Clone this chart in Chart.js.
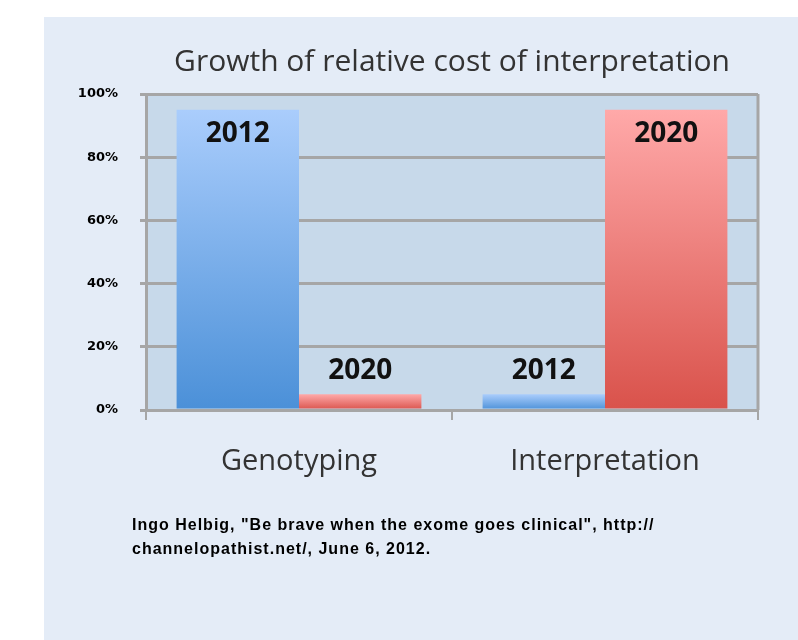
<!DOCTYPE html>
<html>
<head>
<meta charset="utf-8">
<script src="https://cdn.jsdelivr.net/npm/chart.js@4"></script>
<style>
    body { margin: 0; background: #ffffff; }
    #wrap { position: relative; width: 798px; height: 640px; }
    #note {
        position: absolute; left: 132px; top: 513px;
        font-family: "Liberation Sans", sans-serif; font-size: 16px; line-height: 24px;
        color: #000; font-weight: bold; letter-spacing: 1px;
    }
</style>
</head>
<body>
<div id="wrap">
    <canvas id="costChart" width="798" height="640"></canvas>
    <div id="note">Ingo Helbig, "Be brave when the exome goes clinical", http://<br>channelopathist.net/, June 6, 2012.</div>
</div>
<script>
const categories = ['Genotyping', 'Interpretation'];
const series2012 = [95, 5];
const series2020 = [5, 95];
const yTickLabels = ['0%', '20%', '40%', '60%', '80%', '100%'];

const gridGray = '#a6a6a6';

function barGradient(context, light, dark) {
    const chart = context.chart;
    const yScale = chart.scales.y;
    if (!chart.chartArea || !yScale || context.raw === undefined) {
        return dark;
    }
    const top = yScale.getPixelForValue(context.raw);
    const bottom = yScale.getPixelForValue(0);
    const g = chart.ctx.createLinearGradient(0, top, 0, bottom);
    g.addColorStop(0, light);
    g.addColorStop(1, dark);
    return g;
}

// panel + plot area backgrounds, right border of plot
const backgroundPlugin = {
    id: 'backgrounds',
    beforeDraw: function(chart) {
        const ctx = chart.ctx;
        const a = chart.chartArea;
        ctx.save();
        ctx.fillStyle = '#ffffff';
        ctx.fillRect(0, 0, chart.width, chart.height);
        ctx.fillStyle = '#e4ecf7';
        ctx.fillRect(44, 17, chart.width - 44, chart.height - 17);
        ctx.fillStyle = '#c7d9ea';
        ctx.fillRect(a.left, a.top, a.right - a.left, a.bottom - a.top);
        ctx.restore();
    },
    beforeDatasetsDraw: function(chart) {
        const ctx = chart.ctx;
        const a = chart.chartArea;
        ctx.save();
        ctx.strokeStyle = gridGray;
        ctx.lineWidth = 3;
        ctx.beginPath();
        ctx.moveTo(a.right, a.top);
        ctx.lineTo(a.right, a.bottom);
        ctx.stroke();
        ctx.restore();
    }
};

// year labels on bars: inside the tall bars, above the short ones
const yearLabelPlugin = {
    id: 'yearLabels',
    afterDatasetsDraw: function(chart) {
        const ctx = chart.ctx;
        ctx.save();
        ctx.font = 'bold 28px "Open Sans", sans-serif';
        ctx.fillStyle = '#111111';
        ctx.textAlign = 'center';
        ctx.textBaseline = 'middle';
        chart.data.datasets.forEach(function(ds, i) {
            chart.getDatasetMeta(i).data.forEach(function(bar, j) {
                const y = ds.data[j] > 50 ? bar.y + 24 : bar.y - 23;
                ctx.fillText(ds.label, bar.x, y);
            });
        });
        ctx.restore();
    }
};

const ctx = document.getElementById('costChart').getContext('2d');
const costChart = new Chart(ctx, {
    type: 'bar',
    data: {
        labels: categories,
        datasets: [{
            label: '2012',
            data: series2012,
            backgroundColor: function(c) { return barGradient(c, '#aacdfc', '#4b90d8'); },
            borderWidth: 0
        }, {
            label: '2020',
            data: series2020,
            backgroundColor: function(c) { return barGradient(c, '#ffa9a9', '#d9524b'); },
            borderWidth: 0
        }]
    },
    options: {
        responsive: false,
        animation: false,
        devicePixelRatio: 1,
        categoryPercentage: 0.8,
        barPercentage: 1.0,
        layout: {
            padding: { left: 44, right: 40, top: 17, bottom: 160 }
        },
        plugins: {
            legend: { display: false },
            tooltip: { enabled: false },
            title: {
                display: true,
                fullSize: false,
                text: 'Growth of relative cost of interpretation',
                color: '#333333',
                font: { family: '"Open Sans", sans-serif', size: 30, weight: 'normal', lineHeight: 1.2 },
                padding: { top: 27, bottom: 14 }
            }
        },
        scales: {
            x: {
                afterFit: function(scale) { scale.height = 70; },
                grid: {
                    drawOnChartArea: false,
                    color: gridGray,
                    lineWidth: 2,
                    tickLength: 10
                },
                border: { display: true, color: gridGray, width: 3 },
                ticks: {
                    color: '#333333',
                    padding: 24,
                    font: { family: '"Open Sans", sans-serif', size: 29 }
                }
            },
            y: {
                min: 0,
                max: 100,
                afterFit: function(scale) { scale.width = 102; },
                grid: { color: gridGray, lineWidth: 3, tickLength: 6 },
                border: { display: true, color: gridGray, width: 3 },
                ticks: {
                    stepSize: 20,
                    color: '#000000',
                    padding: 22,
                    font: { family: '"DejaVu Sans", sans-serif', size: 13, weight: 'bold' },
                    callback: function(value, index) { return yTickLabels[index]; }
                }
            }
        }
    },
    plugins: [backgroundPlugin, yearLabelPlugin]
});
</script>
</body>
</html>
